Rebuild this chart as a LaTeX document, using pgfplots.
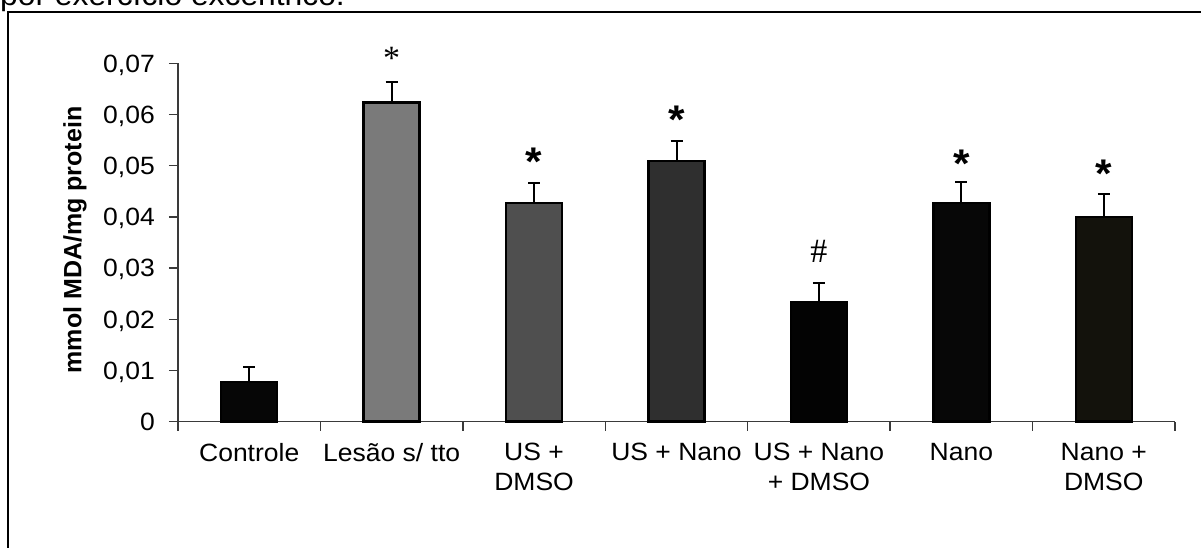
\documentclass[border=0pt]{standalone}
\usepackage{fontspec}
\setmainfont[FakeStretch=1.06]{Liberation Sans}
\newfontfamily\ylabfont{Liberation Sans}
\newfontfamily\sigserif{Liberation Serif}
\usepackage{pgfplots}
\pgfplotsset{compat=1.18}
\definecolor{cA}{HTML}{060606}
\definecolor{cB}{HTML}{7A7A7A}
\definecolor{cC}{HTML}{4F4F4F}
\definecolor{cD}{HTML}{2F2F2F}
\definecolor{cE}{HTML}{030303}
\definecolor{cF}{HTML}{070707}
\definecolor{cG}{HTML}{13120C}
\definecolor{axgray}{HTML}{3A3A3A}
\pgfplotsset{
  mybar/.style={ybar, bar width=56pt, bar shift=0pt, draw=black, line width=2.5pt,
    error bars/y dir=plus, error bars/y explicit,
    error bars/error bar style={line width=2pt, black},
    error bars/error mark options={rotate=90, mark size=6pt, line width=2pt, black}}
}
\begin{document}%
\begin{tikzpicture}[font=\fontsize{25}{30}\selectfont]%
\draw[line width=2pt] (8.3pt,-30pt) -- (8.3pt,536pt) -- (1240pt,536pt);
\node[anchor=base west, inner sep=0pt, font=\fontsize{30}{36}\selectfont] at (0pt,542pt) {por exercício excêntrico.};
\begin{axis}[
  at={(178pt,126.3pt)}, anchor=south west,
  scale only axis, width=997pt, height=358.4pt,
  xmin=0, xmax=7, ymin=0, ymax=0.07,
  scaled y ticks=false,
  clip=false,
  axis x line*=bottom, axis y line*=left,
  axis line style={-, draw=axgray, line width=1.5pt},
  tick align=outside, major tick length=9pt,
  tick style={draw=axgray, line width=1.5pt},
  xtick={0,1,2,3,4,5,6,7}, xticklabels={},
  extra x ticks={0.5,1.5,2.5,3.5,4.5,5.5,6.5},
  extra x tick labels={Controle,{Lesão s/ tto},{US +\\DMSO},{US + Nano},{US + Nano\\+ DMSO},Nano,{Nano +\\DMSO}},
  extra x tick style={major tick length=0pt, tick style={draw=none}},
  xticklabel style={anchor=north, align=center, inner sep=0pt, yshift=-21pt, font=\fontsize{25}{30}\selectfont},
  ytick={0,0.01,0.02,0.03,0.04,0.05,0.06,0.07},
  yticklabels={0,{0,01},{0,02},{0,03},{0,04},{0,05},{0,06},{0,07}},
  yticklabel style={anchor=east, inner sep=0pt, text height=17.5pt, text depth=0pt, xshift=-14pt, font=\fontsize{25}{30}\selectfont},
  ylabel={\ylabfont\bfseries mmol MDA/mg protein},
  ylabel style={at={(axis description cs:-0.1033,0.507)}, anchor=center, font=\fontsize{25}{30}\selectfont},
]
\addplot[fill=cA, mybar] coordinates {(0.5,0.0078) +- (0,0.0029)};
\addplot[fill=cB, mybar] coordinates {(1.5,0.0623) +- (0,0.0040)};
\addplot[fill=cC, mybar] coordinates {(2.5,0.0427) +- (0,0.0040)};
\addplot[fill=cD, mybar] coordinates {(3.5,0.0509) +- (0,0.0039)};
\addplot[fill=cE, mybar] coordinates {(4.5,0.0234) +- (0,0.0036)};
\addplot[fill=cF, mybar] coordinates {(5.5,0.0427) +- (0,0.0041)};
\addplot[fill=cG, mybar] coordinates {(6.5,0.0400) +- (0,0.0045)};
\node[font=\sigserif\fontsize{34}{34}\selectfont, inner sep=0pt, yshift=-6.5pt] at (axis cs:1.5,0.0723) {*};
\node[font=\bfseries\fontsize{40}{40}\selectfont, inner sep=0pt, yshift=-8pt] at (axis cs:2.5,0.0524) {*};
\node[font=\bfseries\fontsize{40}{40}\selectfont, inner sep=0pt, yshift=-8pt] at (axis cs:3.5,0.0605) {*};
\node[font=\sigserif\fontsize{34}{34}\selectfont, inner sep=0pt] at (axis cs:4.5,0.0332) {\#};
\node[font=\bfseries\fontsize{40}{40}\selectfont, inner sep=0pt, yshift=-8pt] at (axis cs:5.5,0.0520) {*};
\node[font=\bfseries\fontsize{40}{40}\selectfont, inner sep=0pt, yshift=-8pt] at (axis cs:6.5,0.0500) {*};
\end{axis}
\pgfresetboundingbox
\path[use as bounding box] (0pt,0pt) rectangle (1201pt,548pt);
\end{tikzpicture}%
\end{document}
